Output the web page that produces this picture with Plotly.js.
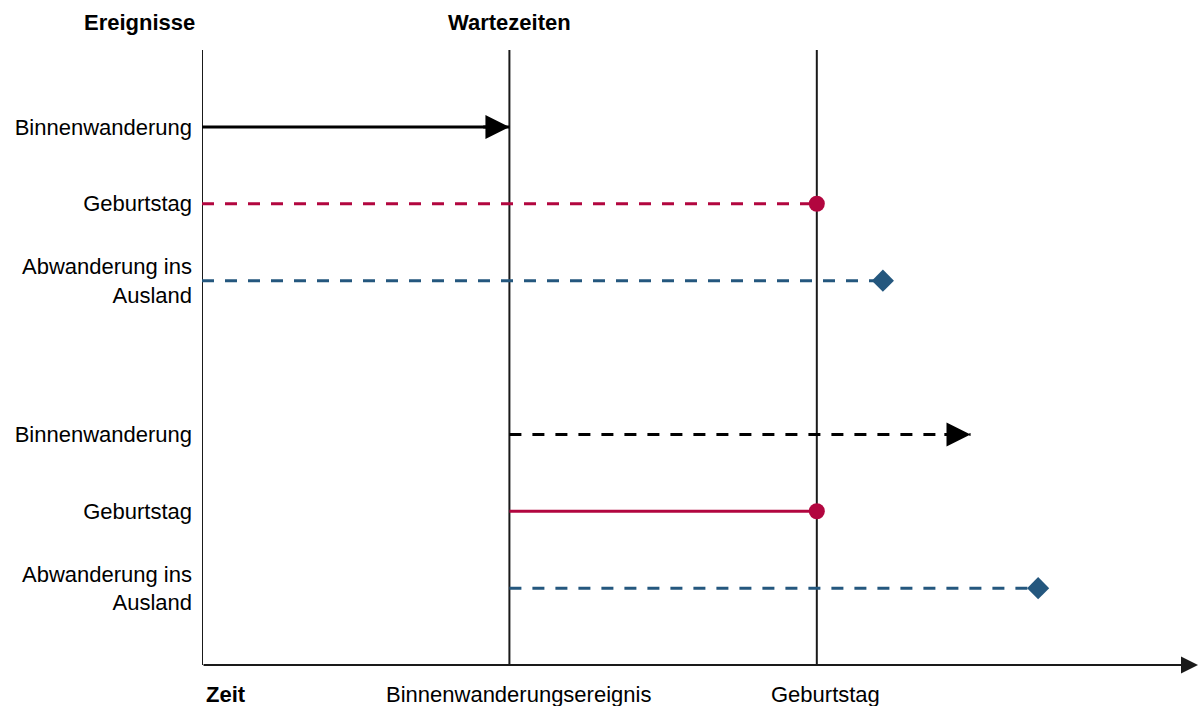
<!DOCTYPE html>
<html>
<head>
<meta charset="utf-8">
<script src="https://cdn.plot.ly/plotly-3.0.1.min.js"></script>
<style>html,body{margin:0;padding:0;background:#fff;}</style>
</head>
<body>
<div id="chart" style="width:1198px;height:706px;"></div>
<script>
// ---- data ----
const eventLabels = ["Binnenwanderung", "Geburtstag", "Abwanderung ins<br>Ausland",
                     "Binnenwanderung", "Geburtstag", "Abwanderung ins<br>Ausland"];
const rowY = [7, 6, 5, 3, 2, 1];
const waitStart = [0, 0, 0, 1, 1, 1];
const waitEnd = [1, 2, 2.215, 2.5, 2, 2.72];
const eventTimes = [0, 1, 2];           // Zeit origin, Binnenwanderungsereignis, Geburtstag
const timeLabels = ["Binnenwanderungsereignis", "Geburtstag"];
const timeLabelAt = [1, 2];
const yTop = 8;
const xMax = 3.24;

// ---- styles (kept separate) ----
const RED = "#B2063F", BLUE = "#24577E", BLACK = "#000000";
const rowColor = [BLACK, RED, BLUE, BLACK, RED, BLUE];
const rowDash = ["solid", "12px,11px", "12px,11px", "12px,11px", "solid", "12px,11px"];
const rowEnd = ["arrow", "circle", "diamond", "arrow", "circle", "diamond"];
const FONT = "Liberation Sans, Arial, sans-serif";
const FS = 22;

const traces = [];
// vertical reference lines
eventTimes.forEach(t => {
  traces.push({x: [t, t], y: [0, yTop], mode: "lines", line: {color: "#1a1a1a", width: 2},
               hoverinfo: "skip", showlegend: false});
});
const annotations = [];
rowY.forEach((y, i) => {
  traces.push({x: [waitStart[i], waitEnd[i]], y: [y, y], mode: "lines",
               line: {color: rowColor[i], width: 3, dash: rowDash[i]},
               hoverinfo: "skip", showlegend: false});
  if (rowEnd[i] === "arrow") {
    annotations.push({x: waitEnd[i], y: y, ax: waitEnd[i] - 0.09, ay: y,
      xref: "x", yref: "y", axref: "x", ayref: "y", text: "", showarrow: true,
      arrowhead: 2, arrowsize: 1.6, arrowwidth: 3, arrowcolor: rowColor[i], standoff: 0});
  } else {
    traces.push({x: [waitEnd[i]], y: [y], mode: "markers",
      marker: {symbol: rowEnd[i], size: rowEnd[i] === "circle" ? 16 : 17, color: rowColor[i]},
      hoverinfo: "skip", showlegend: false});
  }
});
// time axis arrow
annotations.push({x: xMax, y: 0, ax: 0, ay: 0, xref: "x", yref: "y", axref: "x", ayref: "y",
  text: "", showarrow: true, arrowhead: 2, arrowsize: 1.7, arrowwidth: 2, arrowcolor: "#1a1a1a", standoff: 0});
// headers
annotations.push({x: 0, y: 1, xref: "x", yref: "paper", text: "<b>Ereignisse</b>", showarrow: false,
  xanchor: "right", yanchor: "middle", xshift: -5, yshift: 28, font: {family: FONT, size: FS, color: "#000"}});
annotations.push({x: 1, y: 1, xref: "x", yref: "paper", text: "<b>Wartezeiten</b>", showarrow: false,
  xanchor: "center", yanchor: "middle", yshift: 28, font: {family: FONT, size: FS, color: "#000"}});
annotations.push({x: 0, y: 0, xref: "x", yref: "paper", text: "<b>Zeit</b>", showarrow: false,
  xanchor: "left", yanchor: "middle", xshift: 2, yshift: -29, font: {family: FONT, size: FS, color: "#000"}});
timeLabels.forEach((t, i) => {
  annotations.push({x: timeLabelAt[i], y: 0, xref: "x", yref: "paper", text: t, showarrow: false,
    xanchor: "center", yanchor: "middle", xshift: 9, yshift: -29, font: {family: FONT, size: FS, color: "#000"}});
});

const layout = {
  width: 1198, height: 706,
  margin: {l: 202, r: 0, t: 50, b: 41, pad: 0},
  paper_bgcolor: "#fff", plot_bgcolor: "#fff",
  showlegend: false,
  xaxis: {range: [0, xMax], showgrid: false, zeroline: false, showline: false,
          showticklabels: false, ticks: "", fixedrange: true},
  yaxis: {range: [0, yTop], showgrid: false, zeroline: false, showline: false,
          tickvals: rowY, ticktext: eventLabels, ticks: "", ticklabelstandoff: 9,
          tickfont: {family: FONT, size: FS, color: "#000"}, fixedrange: true},
  annotations: annotations
};
Plotly.newPlot("chart", traces, layout, {displayModeBar: false, staticPlot: true});
</script>
</body>
</html>
